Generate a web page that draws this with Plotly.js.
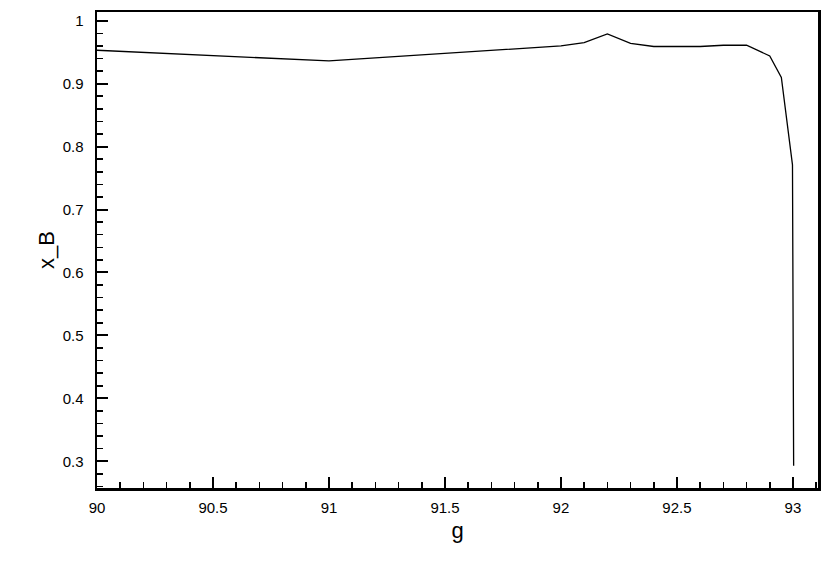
<!DOCTYPE html>
<html>
<head>
<meta charset="utf-8">
<script src="https://cdn.plot.ly/plotly-3.0.1.min.js"></script>
<style>
  html, body { margin: 0; padding: 0; background: #fff; }
  #chart { width: 830px; height: 586px; }
</style>
</head>
<body>
<div id="chart"></div>
<script>
// g values and x_B
var g = [90, 91, 92, 92.1, 92.2, 92.3, 92.4, 92.5, 92.6, 92.7, 92.8, 92.9, 92.95, 92.998, 93.003];
var xB = [0.953, 0.936, 0.960, 0.965, 0.979, 0.964, 0.959, 0.959, 0.959, 0.961, 0.961, 0.944, 0.910, 0.771, 0.293];

var curve = {
    x: g,
    y: xB,
    mode: "lines",
    line: { color: "black", width: 1.3 },
    showlegend: false
};

var axisFont = { family: "Liberation Sans, Arial, sans-serif", size: 15, color: "black" };

var layout = {
    width: 830,
    height: 586,
    margin: { l: 97, r: 12, t: 12, b: 98 },
    paper_bgcolor: "white",
    plot_bgcolor: "white",
    font: axisFont,
    xaxis: {
        range: [90, 93.108],
        tickvals: [90, 90.5, 91, 91.5, 92, 92.5, 93],
        ticktext: ["90", "90.5", "91", "91.5", "92", "92.5", "93"],
        ticks: "inside", ticklen: 11, tickwidth: 2, tickcolor: "black",
        minor: { dtick: 0.1, tick0: 90, ticks: "inside", ticklen: 6, tickwidth: 1.5, tickcolor: "black" },
        showline: true, linewidth: 2.5, linecolor: "black", mirror: true,
        showgrid: false, zeroline: false,
        ticklabelstandoff: 4,
        title: { text: "g", font: { family: "Liberation Sans, Arial, sans-serif", size: 22, color: "black" }, standoff: 8 }
    },
    yaxis: {
        range: [0.2576, 1.0138],
        tickvals: [0.3, 0.4, 0.5, 0.6, 0.7, 0.8, 0.9, 1],
        ticktext: ["0.3", "0.4", "0.5", "0.6", "0.7", "0.8", "0.9", "1"],
        ticks: "inside", ticklen: 11, tickwidth: 2, tickcolor: "black",
        minor: { dtick: 0.02, tick0: 0.3, ticks: "inside", ticklen: 6, tickwidth: 1.5, tickcolor: "black" },
        showline: true, linewidth: 2.5, linecolor: "black", mirror: true,
        showgrid: false, zeroline: false,
        ticklabelstandoff: 8,
        title: { text: "x_B", font: { family: "Liberation Sans, Arial, sans-serif", size: 22, color: "black" }, standoff: 2 }
    }
};

Plotly.newPlot("chart", [curve], layout, { displayModeBar: false, staticPlot: true });
</script>
</body>
</html>
